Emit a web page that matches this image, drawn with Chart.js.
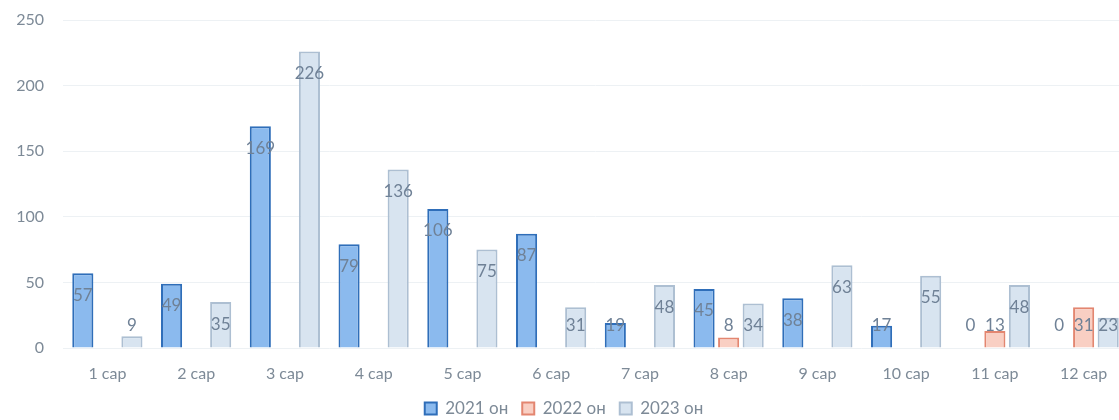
<!DOCTYPE html>
<html>
<head>
<meta charset="utf-8">
<script src="https://cdn.jsdelivr.net/npm/chart.js@4"></script>
<style>
  html, body { margin: 0; padding: 0; background: #fff; overflow: hidden; }
  #wrap { width: 1128px; height: 420px; position: relative; }
</style>
</head>
<body>
<div id="wrap"><canvas id="grafik"></canvas></div>
<script>
const sarNer = ['1 сар', '2 сар', '3 сар', '4 сар', '5 сар', '6 сар', '7 сар', '8 сар', '9 сар', '10 сар', '11 сар', '12 сар'];
const on2021 = [57, 49, 169, 79, 106, 87, 19, 45, 38, 17, 0, 0];
const on2022 = [null, null, null, null, null, null, null, 8, null, null, 13, 31];
const on2023 = [9, 35, 226, 136, 75, 31, 48, 34, 63, 55, 48, 23];
const yTicks = [0, 50, 100, 150, 200, 250];

const tekstOngo = '#7d8a97';
const fontNer = 'Lato, "Open Sans", sans-serif';

// value labels: near top inside the bar, but not lower than the base area
const shoshgoPlugin = {
  id: 'shoshgo',
  afterDatasetsDraw(chart) {
    const ctx = chart.ctx;
    const base = chart.scales.y.getPixelForValue(0);
    ctx.save();
    ctx.font = '17px ' + fontNer;
    ctx.fillStyle = '#6f8196';
    ctx.textAlign = 'center';
    ctx.textBaseline = 'middle';
    chart.data.datasets.forEach((ds, i) => {
      const meta = chart.getDatasetMeta(i);
      meta.data.forEach((bar, j) => {
        const v = ds.data[j];
        if (v === null || v === undefined) return;
        const y = Math.min(bar.y + 22, base - 22);
        ctx.fillText(String(v), bar.x, y);
      });
    });
    ctx.restore();
  }
};

const ctx = document.getElementById('grafik').getContext('2d');

const chart = new Chart(ctx, {
  type: 'bar',
  data: {
    labels: sarNer,
    datasets: [{
      label: '2021 он',
      data: on2021,
      backgroundColor: '#8bbaee',
      borderColor: '#2f6eb9',
      borderWidth: 2
    }, {
      label: '2022 он',
      data: on2022,
      backgroundColor: '#f9cfc3',
      borderColor: '#e38670',
      borderWidth: 2
    }, {
      label: '2023 он',
      data: on2023,
      backgroundColor: '#d8e4f0',
      borderColor: '#adbfd2',
      borderWidth: 2
    }]
  },
  options: {
    responsive: true,
    maintainAspectRatio: false,
    animation: false,
    categoryPercentage: 0.83,
    barPercentage: 0.86,
    layout: { padding: { top: 0, left: 0, right: 0, bottom: -7 } },
    plugins: {
      legend: {
        position: 'bottom',
        labels: {
          color: tekstOngo,
          font: { size: 17, family: fontNer },
          boxWidth: 12,
          boxHeight: 12,
          padding: 14,
          useBorderRadius: false
        }
      },
      tooltip: { enabled: false }
    },
    scales: {
      x: {
        grid: { display: false },
        border: { display: false },
        afterFit(scale) {
          scale.height = 38;
        },
        ticks: {
          color: tekstOngo,
          font: { size: 16, family: fontNer },
          padding: 8
        }
      },
      y: {
        min: 0,
        max: 250,
        afterBuildTicks(scale) {
          scale.ticks = yTicks.map(v => ({ value: v }));
        },
        afterFit(scale) {
          scale.width = 63;
          scale.paddingTop = 20;
          scale.paddingBottom = 10;
        },
        grid: { color: '#edf1f4', lineWidth: 1, drawTicks: false },
        border: { display: false },
        ticks: {
          color: tekstOngo,
          font: { size: 16, family: fontNer },
          padding: 19
        }
      }
    }
  },
  plugins: [shoshgoPlugin]
});
</script>
</body>
</html>
